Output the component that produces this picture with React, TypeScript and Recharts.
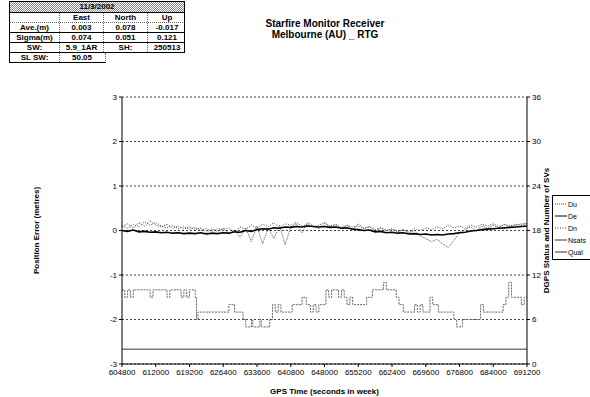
import { ComposedChart, Line, XAxis, YAxis, CartesianGrid } from "recharts";

// GPS time samples (seconds in week)
const times = [
  604800, 606000, 607200, 608400, 609600, 610800,
  612000, 613200, 614400, 615600, 616800, 618000,
  619200, 620400, 621600, 622800, 624000, 625200,
  626400, 627600, 628800, 630000, 631200, 632400,
  633600, 634800, 636000, 637200, 638400, 639600,
  640800, 642000, 643200, 644400, 645600, 646800,
  648000, 649200, 650400, 651600, 652800, 654000,
  655200, 656400, 657600, 658800, 660000, 661200,
  662400, 663600, 664800, 666000, 667200, 668400,
  669600, 670800, 672000, 673200, 674400, 675600,
  676800, 678000, 679200, 680400, 681600, 682800,
  684000, 685200, 686400, 687600, 688800, 690000,
  691200,
];

const du = [
  0.08, 0.15, 0.05, 0.18, 0.1, 0.22,
  0.12, 0.08, 0.14, 0.05, 0.1, 0.03,
  0.08, 0.02, 0.06, -0.05, 0.04, -0.02,
  0.05, -0.08, 0.02, -0.15, 0.06, -0.25,
  0.1, -0.3, 0.05, -0.18, 0.12, -0.32,
  0.08, 0.15, -0.05, 0.18, 0.1, 0.04,
  0.16, 0.08, 0.13, 0.05, 0.12, 0.02,
  0.15, 0.05, 0.09, -0.02, 0.06, 0.0,
  0.04, -0.03, 0.02, -0.06, 0.0, -0.12,
  -0.18, -0.25, -0.2, -0.3, -0.38, -0.22,
  -0.05, 0.02, 0.08, 0.0, 0.1, 0.05,
  0.12, 0.06, 0.14, 0.08, 0.12, 0.15,
  0.16,
];

const de = [
  0.0, -0.02, 0.01, -0.03, -0.02, -0.04,
  -0.03, -0.05, -0.04, -0.06, -0.05, -0.07,
  -0.06, -0.07, -0.05, -0.08, -0.06, -0.07,
  -0.05, -0.06, -0.03, -0.04, 0.0, -0.02,
  0.02, 0.04, 0.03, 0.06, 0.05, 0.08,
  0.07, 0.09, 0.08, 0.1, 0.09, 0.08,
  0.09, 0.07, 0.08, 0.05, 0.06, 0.03,
  0.02, 0.0, 0.01, -0.03, -0.02, -0.05,
  -0.04, -0.06, -0.05, -0.08, -0.07, -0.09,
  -0.08, -0.1, -0.09, -0.1, -0.08, -0.07,
  -0.05, -0.04, -0.01, 0.0, 0.02, 0.03,
  0.04, 0.05, 0.06, 0.07, 0.08, 0.09,
  0.1,
];

const dn = [
  0.1, 0.05, 0.14, 0.08, 0.2, 0.12,
  0.18, 0.1, 0.06, 0.12, 0.04, 0.09,
  0.03, 0.07, 0.0, 0.05, -0.02, 0.04,
  0.02, 0.06, -0.04, 0.08, 0.03, 0.12,
  0.05, 0.14, 0.08, 0.18, 0.06, 0.15,
  0.12, 0.18, 0.1, 0.14, 0.08, 0.12,
  0.18, 0.1, 0.14, 0.06, 0.12, 0.08,
  0.1, 0.04, 0.08, 0.02, 0.06, 0.0,
  0.03, -0.02, 0.02, -0.04, 0.04, 0.0,
  0.06, 0.02, 0.08, 0.04, 0.12, 0.06,
  0.1, 0.05, 0.12, 0.08, 0.14, 0.1,
  0.15, 0.09, 0.13, 0.1, 0.14, 0.12,
  0.15,
];

// number of satellites, step changes
const satTimes = [
  604800, 605400, 606000, 606600, 607200, 610800, 611400, 614400, 615000,
  617400, 618000, 618600, 619200, 620400, 620700, 621000, 627600, 628800,
  630600, 631200, 632400, 632700, 634200, 634500, 636300, 636900, 637500,
  638100, 638700, 641100, 643200, 644100, 645000, 645600, 646200, 646800,
  648300, 648900, 649500, 651000, 651600, 652200, 652800, 653400, 654000,
  657000, 658200, 660600, 661200, 663300, 663900, 664800, 667200, 667800,
  668400, 669000, 670500, 671100, 672300, 675600, 676200, 677400, 681300,
  681900, 686100, 686700, 687300, 687900, 690000, 690600, 691200,
];
const satCounts = [
  10, 9, 10, 9, 10, 9, 10, 9, 10,
  9, 10, 9, 10, 9, 6, 7, 8, 7,
  6, 5, 6, 5, 6, 5, 6, 8, 7,
  8, 7, 8, 9, 8, 7, 8, 7, 8,
  10, 9, 10, 9, 10, 9, 8, 9, 8,
  9, 10, 11, 10, 9, 8, 7, 8, 7,
  8, 7, 9, 8, 7, 6, 5, 6, 8,
  7, 8, 9, 11, 9, 8, 9, 9,
];

const qualTimes = [604800, 691200];
const qualValues = [2, 2];

const xTicks = [
  604800, 612000, 619200, 626400, 633600, 640800, 648000, 655200, 662400,
  669600, 676800, 684000, 691200,
];
const leftTicks = [-3, -2, -1, 0, 1, 2, 3];
const rightTicks = [0, 6, 12, 18, 24, 30, 36];

const tableDate = "11/3/2002";
const tableCols = ["East", "North", "Up"];
const aveVals = ["0.003", "0.078", "-0.017"];
const sigmaVals = ["0.074", "0.051", "0.121"];

const errData = times.map((t, i) => ({ t, du: du[i], de: de[i], dn: dn[i] }));
const satData = satTimes.map((t, i) => ({ t, nsats: satCounts[i] }));
const qualData = qualTimes.map((t, i) => ({ t, qual: qualValues[i] }));

const font = "'Liberation Sans', Arial, sans-serif";
const tickStyle = { fontSize: 8, fill: "#000", fontFamily: font };

const legendItems = [
  { name: "Du", color: "#555", dash: "1 1" },
  { name: "De", color: "#000", dash: "" },
  { name: "Dn", color: "#444", dash: "1 1.5" },
  { name: "Nsats", color: "#333", dash: "" },
  { name: "Qual", color: "#333", dash: "" },
];

const cell = (extra: React.CSSProperties = {}): React.CSSProperties => ({
  textAlign: "center",
  fontSize: 8,
  lineHeight: "9px",
  height: 9,
  ...extra,
});

const Table = () => {
  const cols = "50px 44px 44px 38px";
  const dot = "1px dotted #666";
  return (
    <div
      style={{
        position: "absolute",
        left: 9,
        top: 1,
        width: 176,
        fontFamily: font,
        fontWeight: "bold",
        color: "#000",
      }}
    >
      <div
        style={cell({
          border: "1px solid #000",
          background: "repeating-conic-gradient(#8a8a8a 0 25%, #fff 0 50%) 0 0/2px 2px",
          height: 10,
          lineHeight: "10px",
        })}
      >
        {tableDate}
      </div>
      <div style={{ display: "grid", gridTemplateColumns: cols, borderLeft: "1px solid #000", borderRight: "1px solid #000" }}>
        <div style={cell({ borderRight: dot })} />
        {tableCols.map((c, i) => (
          <div key={c} style={cell({ borderRight: i < 2 ? dot : "none" })}>{c}</div>
        ))}
      </div>
      <div style={{ display: "grid", gridTemplateColumns: cols, borderLeft: "1px solid #000", borderRight: "1px solid #000", borderTop: dot }}>
        <div style={cell({ borderRight: dot })}>Ave.(m)</div>
        {aveVals.map((v, i) => (
          <div key={i} style={cell({ borderRight: i < 2 ? dot : "none" })}>{v}</div>
        ))}
      </div>
      <div style={{ display: "grid", gridTemplateColumns: cols, border: "1px solid #000" }}>
        <div style={cell({ borderRight: dot })}>Sigma(m)</div>
        {sigmaVals.map((v, i) => (
          <div key={i} style={cell({ borderRight: i < 2 ? dot : "none" })}>{v}</div>
        ))}
      </div>
      <div style={{ display: "grid", gridTemplateColumns: cols, borderLeft: "1px solid #000", borderRight: "1px solid #000", borderBottom: "1px solid #000" }}>
        <div style={cell({ borderRight: dot })}>SW:</div>
        <div style={cell({ borderRight: dot })}>5.9_1AR</div>
        <div style={cell({ borderRight: dot })}>SH:</div>
        <div style={cell()}>250513</div>
      </div>
      <div style={{ display: "grid", gridTemplateColumns: "50px 44px", width: 95, borderLeft: "1px solid #000", borderRight: dot, borderBottom: "1px solid #000" }}>
        <div style={cell({ borderRight: dot })}>SL SW:</div>
        <div style={cell()}>50.05</div>
      </div>
    </div>
  );
};

const LegendBox = () => (
  <div
    style={{
      position: "absolute",
      left: 552,
      top: 195,
      width: 40,
      height: 65,
      border: "1px solid #000",
      background: "#fff",
      fontFamily: font,
      fontSize: 7,
      boxSizing: "border-box",
      paddingTop: 2,
    }}
  >
    {legendItems.map((it) => (
      <div key={it.name} style={{ display: "flex", alignItems: "center", height: 12 }}>
        <svg width={13} height={6} style={{ marginLeft: 2 }}>
          <line x1={0} y1={3} x2={12} y2={3} stroke={it.color} strokeWidth={1} strokeDasharray={it.dash} />
        </svg>
        <span>{it.name}</span>
      </div>
    ))}
  </div>
);

export default function App() {
  return (
    <div style={{ position: "absolute", left: 0, top: 0, width: 590, height: 397, background: "#fff", overflow: "hidden" }}>
      <Table />
      <div
        style={{
          position: "absolute",
          left: 225,
          top: 18,
          width: 200,
          textAlign: "center",
          fontFamily: font,
          fontWeight: "bold",
          fontSize: 10,
          lineHeight: "11px",
        }}
      >
        <div>Starfire Monitor Receiver</div>
        <div>Melbourne (AU) _ RTG</div>
      </div>
      <ComposedChart
        width={590}
        height={397}
        margin={{ top: 97, right: 33, bottom: 0, left: 0 }}
        style={{ position: "absolute", left: 0, top: 0 }}
      >
        <CartesianGrid yAxisId="left" vertical={false} stroke="#444" strokeDasharray="2 2" />
        <XAxis
          dataKey="t"
          type="number"
          domain={[604800, 691200]}
          ticks={xTicks}
          allowDuplicatedCategory={false}
          height={33}
          tick={tickStyle}
          tickSize={3}
          stroke="#000"
          label={{ value: "GPS Time (seconds in week)", position: "insideBottom", offset: 3, style: { ...tickStyle, fontWeight: "bold" } }}
        />
        <YAxis
          yAxisId="left"
          domain={[-3, 3]}
          ticks={leftTicks}
          width={122}
          tick={tickStyle}
          tickSize={3}
          stroke="#000"
          label={{ value: "Position Error (metres)", angle: -90, position: "center", dx: -25, style: { ...tickStyle, fontWeight: "bold", textAnchor: "middle" } }}
        />
        <YAxis
          yAxisId="right"
          orientation="right"
          domain={[0, 36]}
          ticks={rightTicks}
          width={30}
          tick={tickStyle}
          tickSize={3}
          stroke="#000"
          label={{ value: "DGPS Status and Number of SVs", angle: -90, position: "center", dx: 4, style: { ...tickStyle, fontWeight: "bold", textAnchor: "middle" } }}
        />
        <Line yAxisId="right" data={qualData} dataKey="qual" stroke="#333" strokeWidth={1} dot={false} isAnimationActive={false} />
        <Line yAxisId="right" data={satData} dataKey="nsats" type="stepAfter" stroke="#666" strokeWidth={1} strokeDasharray="2 1" dot={false} isAnimationActive={false} />
        <Line yAxisId="left" data={errData} dataKey="dn" stroke="#444" strokeWidth={1} strokeDasharray="1 1.5" dot={false} isAnimationActive={false} />
        <Line yAxisId="left" data={errData} dataKey="du" stroke="#555" strokeWidth={1} strokeDasharray="1 1" dot={false} isAnimationActive={false} />
        <Line yAxisId="left" data={errData} dataKey="de" stroke="#000" strokeWidth={1.6} dot={false} isAnimationActive={false} />
      </ComposedChart>
      <LegendBox />
    </div>
  );
}
